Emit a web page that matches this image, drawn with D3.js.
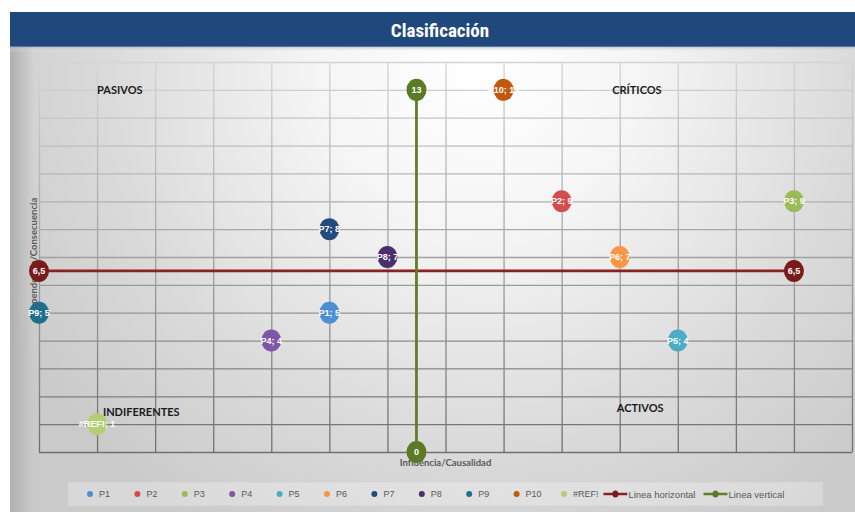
<!DOCTYPE html>
<html>
<head>
<meta charset="utf-8">
<script src="https://cdn.jsdelivr.net/npm/d3@7/dist/d3.min.js"></script>
<style>
  html, body { margin: 0; padding: 0; background: #ffffff; }
  svg { display: block; }
</style>
</head>
<body>
<svg id="chart" width="855" height="512"></svg>
<script>
// ---- Data ----
const chartTitle = "Clasificación";
const xAxisTitle = "Influencia/Causalidad";
const yAxisTitle = "Dependencia/Consecuencia";
const seriesNames = ["P1", "P2", "P3", "P4", "P5", "P6", "P7", "P8", "P9", "P10", "#REF!"];
const xValues = [5, 9, 13, 4, 11, 10, 5, 6, 0, 8, 1];
const yValues = [5, 9, 9, 4, 4, 7, 8, 7, 5, 13, 1];
const seriesColors = ["#4a8fd3", "#d34d4d", "#9bbb59", "#7e57a6", "#4bacc6", "#f79646",
                      "#234b7b", "#4a2f6c", "#1f6e8c", "#c0580e", "#b3cf76"];
const hLineName = "Linea horizontal";
const hLineX = [0, 13];
const hLineY = [6.5, 6.5];
const vLineName = "Linea vertical";
const vLineX = [6.5, 6.5];
const vLineY = [13, 0];
const hLineColor = "#8b2222", hMarkerColor = "#7a1b1b";
const vLineColor = "#5f7f26", vMarkerColor = "#5a7a25";
const xDomain = [0, 14];
const yDomain = [0, 14];
const xTickValues = d3.range(0, 15, 1);
const yTickValues = d3.range(0, 15, 1);
const quadrantNames = ["PASIVOS", "CRÍTICOS", "INDIFERENTES", "ACTIVOS"];
const quadrantX = [1.0, 9.87, 1.1, 9.95];
const quadrantY = [13.0, 13.0, 1.47, 1.58];

// ---- Setup ----
const svg = d3.select("#chart");
const W = 855, H = 512;
const locale = d3.formatLocale({decimal: ",", thousands: ".", grouping: [3], currency: ["", ""]});
const fmt = locale.format("~g");

const x = d3.scaleLinear().domain(xDomain).range([39, 852]);
const y = d3.scaleLinear().domain(yDomain).range([452, 62]);
const gridStops = ["#d4d4d4", "#a6a6a6", "#707070"];
const gridColor = d3.scaleLinear().domain([14, 7.7, 0]).range(gridStops);

const defs = svg.append("defs");
const bg = defs.append("radialGradient").attr("id", "bgGrad")
  .attr("gradientUnits", "userSpaceOnUse")
  .attr("cx", 480).attr("cy", 70).attr("r", 540);
bg.append("stop").attr("offset", "0%").attr("stop-color", "#ffffff");
bg.append("stop").attr("offset", "30%").attr("stop-color", "#f5f5f5");
bg.append("stop").attr("offset", "70%").attr("stop-color", "#dadada");
bg.append("stop").attr("offset", "100%").attr("stop-color", "#cacaca");

const edge = defs.append("linearGradient").attr("id", "edgeGrad")
  .attr("x1", 0).attr("x2", 1).attr("y1", 0).attr("y2", 0);
edge.append("stop").attr("offset", "0%").attr("stop-color", "#b0b0b0").attr("stop-opacity", 1);
edge.append("stop").attr("offset", "100%").attr("stop-color", "#b0b0b0").attr("stop-opacity", 0);

// vertical grid lines live in tick groups whose local y runs from -(plot height) to 0
const gv = defs.append("linearGradient").attr("id", "gridGradV")
  .attr("gradientUnits", "userSpaceOnUse")
  .attr("x1", 0).attr("x2", 0).attr("y1", y(14) - y(0)).attr("y2", 0);
gv.append("stop").attr("offset", "0%").attr("stop-color", gridStops[0]);
gv.append("stop").attr("offset", "45%").attr("stop-color", gridStops[1]);
gv.append("stop").attr("offset", "100%").attr("stop-color", gridStops[2]);

const topShade = defs.append("linearGradient").attr("id", "topShade")
  .attr("x1", 0).attr("x2", 0).attr("y1", 0).attr("y2", 1);
topShade.append("stop").attr("offset", "0%").attr("stop-color", "#9a9a9a").attr("stop-opacity", 0.7);
topShade.append("stop").attr("offset", "100%").attr("stop-color", "#ffffff").attr("stop-opacity", 0);

// Chart background
svg.append("rect").attr("x", 10).attr("y", 46).attr("width", W - 10).attr("height", H - 46)
  .attr("fill", "url(#bgGrad)");
svg.append("rect").attr("x", 10).attr("y", 46).attr("width", 24).attr("height", H - 46)
  .attr("fill", "url(#edgeGrad)");
svg.append("rect").attr("x", 10).attr("y", 46).attr("width", W - 10).attr("height", 6)
  .attr("fill", "url(#topShade)");

// Title bar
svg.append("rect").attr("x", 10).attr("y", 12).attr("width", W - 10).attr("height", 35)
  .attr("fill", "#1f497d");
svg.append("line").attr("x1", 10).attr("x2", W).attr("y1", 46.5).attr("y2", 46.5)
  .attr("stroke", "#5677a3").attr("stroke-width", 1);
svg.append("text").attr("x", 440).attr("y", 30).attr("text-anchor", "middle")
  .attr("dominant-baseline", "central")
  .attr("font-family", "'Liberation Sans Narrow', 'Roboto Condensed', 'Liberation Sans', sans-serif")
  .attr("font-weight", "bold").attr("font-size", 19).attr("fill", "#ffffff")
  .text(chartTitle);

// Gridlines via axes
const gridG = svg.append("g").attr("class", "grid");
gridG.append("g").attr("transform", `translate(0,${y(0)})`)
  .call(d3.axisBottom(x).tickValues(xTickValues).tickSize(-(y(0) - y(14))).tickFormat(""))
  .call(g => g.select(".domain").remove())
  .call(g => g.selectAll("line").attr("stroke", "url(#gridGradV)").attr("stroke-width", 1.3));
gridG.append("g").attr("transform", `translate(${x(0)},0)`)
  .call(d3.axisLeft(y).tickValues(yTickValues).tickSize(-(x(14) - x(0))).tickFormat(""))
  .call(g => g.select(".domain").remove())
  .call(g => g.selectAll(".tick line").attr("stroke", d => gridColor(d)).attr("stroke-width", 1.3));

// Quadrant labels
svg.append("g").selectAll("text").data(quadrantNames).join("text")
  .attr("x", (d, i) => x(quadrantX[i]))
  .attr("y", (d, i) => y(quadrantY[i]))
  .attr("dominant-baseline", "central")
  .attr("font-family", "Lato, 'Liberation Sans', sans-serif")
  .attr("font-weight", "bold").attr("font-size", 11).attr("fill", "#1a1a1a")
  .text(d => d);

// Axis titles
svg.append("text").attr("x", (x(0) + x(14)) / 2).attr("y", 462).attr("text-anchor", "middle")
  .attr("dominant-baseline", "central")
  .attr("font-family", "Lato, 'Liberation Sans', sans-serif")
  .attr("font-weight", "bold").attr("font-size", 9.5).attr("fill", "#595959")
  .text(xAxisTitle);
svg.append("text")
  .attr("transform", `translate(33,${(y(0) + y(14)) / 2}) rotate(-90)`)
  .attr("text-anchor", "middle").attr("dominant-baseline", "central")
  .attr("font-family", "Lato, 'Liberation Sans', sans-serif")
  .attr("font-weight", "bold").attr("font-size", 9.5).attr("fill", "#595959")
  .text(yAxisTitle);

// Reference lines
const line = d3.line().x(d => x(d[0])).y(d => y(d[1]));
const hPts = hLineX.map((v, i) => [v, hLineY[i]]);
const vPts = vLineX.map((v, i) => [v, vLineY[i]]);
svg.append("path").attr("d", line(hPts)).attr("fill", "none")
  .attr("stroke", hLineColor).attr("stroke-width", 2.8);
svg.append("path").attr("d", line(vPts)).attr("fill", "none")
  .attr("stroke", vLineColor).attr("stroke-width", 2.8);

// Markers helper
const labelFont = "'Liberation Sans Narrow', 'Liberation Sans', sans-serif";
function marker(g, cx, cy, color, label) {
  g.append("ellipse").attr("cx", cx).attr("cy", cy).attr("rx", 10).attr("ry", 11)
    .attr("fill", color);
  g.append("text").attr("x", cx).attr("y", cy).attr("text-anchor", "middle")
    .attr("dominant-baseline", "central")
    .attr("font-family", labelFont).attr("font-weight", "bold").attr("font-size", 9)
    .attr("fill", "#ffffff").text(label);
}

const mg = svg.append("g");
hPts.forEach(p => marker(mg, x(p[0]), y(p[1]), hMarkerColor, fmt(p[1])));
vPts.forEach(p => marker(mg, x(p[0]), y(p[1]), vMarkerColor, fmt(p[1])));

seriesNames.forEach((name, i) => {
  marker(mg, x(xValues[i]), y(yValues[i]), seriesColors[i], `${name}; ${fmt(yValues[i])}`);
});

// Legend
const lg = svg.append("g");
lg.append("rect").attr("x", 68).attr("y", 482).attr("width", 755).attr("height", 24)
  .attr("fill", "#ffffff").attr("fill-opacity", 0.28)
  .attr("stroke", "#d0d0d0").attr("stroke-width", 0.6);
const legY = 494;
const legFont = "'Liberation Sans Narrow', 'Liberation Sans', sans-serif";
const legStep = 47.4;
seriesNames.forEach((name, i) => {
  const lx = 90 + i * legStep;
  lg.append("circle").attr("cx", lx).attr("cy", legY).attr("r", 3).attr("fill", seriesColors[i]);
  lg.append("text").attr("x", lx + 9).attr("y", legY).attr("dominant-baseline", "central")
    .attr("font-family", legFont).attr("font-size", 9).attr("fill", "#595959").text(name);
});
const lineItems = [
  {name: hLineName, line: hLineColor, mark: hMarkerColor},
  {name: vLineName, line: vLineColor, mark: vMarkerColor}
];
let cursor = 90 + seriesNames.length * legStep - 8;
lineItems.forEach(it => {
  lg.append("line").attr("x1", cursor).attr("x2", cursor + 24).attr("y1", legY).attr("y2", legY)
    .attr("stroke", it.line).attr("stroke-width", 2.5);
  lg.append("ellipse").attr("cx", cursor + 12).attr("cy", legY).attr("rx", 3).attr("ry", 3.5)
    .attr("fill", it.mark);
  const t = lg.append("text").attr("x", cursor + 25).attr("y", legY).attr("dominant-baseline", "central")
    .attr("font-family", legFont).attr("font-size", 9.5).attr("fill", "#595959").text(it.name);
  cursor += 25 + t.node().getComputedTextLength() + 8;
});
</script>
</body>
</html>
